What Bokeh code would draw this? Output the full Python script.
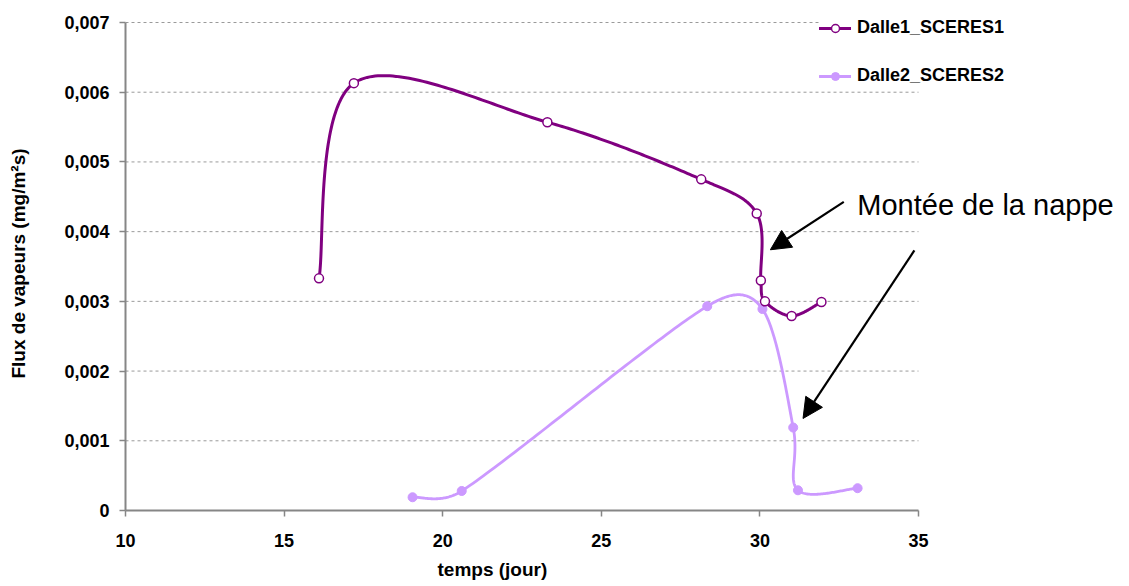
import numpy as np
from bokeh.plotting import figure
from bokeh.models import (FixedTicker, Range1d, Legend, LegendItem, Label, Arrow,
                          NormalHead, Title)
from bokeh.embed import file_html
from bokeh.resources import INLINE

# ---------------- data ----------------
s1_name = "Dalle1_SCERES1"
s1_x = [16.1, 17.2, 23.3, 28.15, 29.9, 30.03, 30.16, 31.0, 31.94]
s1_y = [0.00333, 0.00613, 0.00557, 0.00475, 0.00426, 0.00330, 0.00300, 0.00279, 0.00299]

s2_name = "Dalle2_SCERES2"
s2_x = [19.05, 20.6, 28.34, 30.08, 31.05, 31.2, 33.08]
s2_y = [0.00019, 0.00028, 0.00293, 0.00289, 0.00119, 0.00029, 0.00032]

x_ticks = [10, 15, 20, 25, 30, 35]
y_ticks = [0, 0.001, 0.002, 0.003, 0.004, 0.005, 0.006, 0.007]
y_tick_labels = ["0", "0,001", "0,002", "0,003", "0,004", "0,005", "0,006", "0,007"]

x_title = "temps (jour)"
y_title = "Flux de vapeurs (mg/m²s)"
note_text = "Montée de la nappe"
note_pos = [33.07, 0.00438]
arrow1 = [32.645, 0.004426, 30.33, 0.00374]   # tail x, tail y, tip x, tip y
arrow2 = [34.87, 0.00373, 31.36, 0.00132]

# ---------------- layout ----------------
X0, X1 = 10, 35
Y0, Y1 = 0, 0.007
W, H = 1129, 586
LEFT = 125          # frame left edge (px)
FRAME_TOP = 16      # frame top edge (px)
AX_TOP = 22         # pixel row of y = 0.007
AX_BOTTOM = 510     # pixel row of y = 0
AX_RIGHT = 918      # pixel column of x = 35
PX_X = (AX_RIGHT - LEFT) / (X1 - X0)
PX_Y = (AX_BOTTOM - AX_TOP) / (Y1 - Y0)
X_FULL = X0 + (W - LEFT) / PX_X                  # frame extends to the right edge
Y_FULL = Y1 + (AX_TOP - FRAME_TOP) / PX_Y        # a little room above 0.007
X_TITLE_LEFT = 437      # pixel where the x title starts in the reference

C1 = "#800080"
C2 = "#CC99FF"
FONT = "Liberation Sans"


def excel_smooth(xs, ys, n=60):
    """Excel-like smoothed line (Bezier through points, computed in pixel space)."""
    P = np.column_stack([np.asarray(xs, float) * PX_X, np.asarray(ys, float) * PX_Y])
    m = len(P)
    outx, outy = [], []
    t = np.linspace(0, 1, n)[:, None]
    for i in range(m - 1):
        p0 = P[i - 1] if i > 0 else P[i]
        p1 = P[i]
        p2 = P[i + 1]
        p3 = P[i + 2] if i + 2 < m else P[i + 1]
        d02 = np.linalg.norm(p2 - p0)
        d12 = np.linalg.norm(p2 - p1)
        d13 = np.linalg.norm(p3 - p1)
        f1 = 1 / 6 if d02 / 6 < d12 / 2 else (d12 / (2 * d02) if d02 > 0 else 0)
        f2 = 1 / 6 if d13 / 6 < d12 / 2 else (d12 / (2 * d13) if d13 > 0 else 0)
        c1 = p1 + f1 * (p2 - p0)
        c2 = p2 - f2 * (p3 - p1)
        B = ((1 - t) ** 3) * p1 + 3 * ((1 - t) ** 2) * t * c1 + 3 * (1 - t) * t ** 2 * c2 + t ** 3 * p2
        if i > 0:
            B = B[1:]
        outx.extend(B[:, 0] / PX_X)
        outy.extend(B[:, 1] / PX_Y)
    return outx, outy


p = figure(width=W, height=H, output_backend="svg", toolbar_location=None,
           x_range=Range1d(X0, X_FULL), y_range=Range1d(Y0, Y_FULL),
           min_border_left=LEFT, min_border_top=FRAME_TOP,
           min_border_right=0, min_border_bottom=H - AX_BOTTOM)
p.outline_line_color = None
p.background_fill_color = "white"
p.border_fill_color = "white"
p.xgrid.visible = False
p.ygrid.visible = False

# dashed horizontal gridlines, limited to the axis extent
p.segment(x0=X0, x1=X1, y0=y_ticks[1:], y1=y_ticks[1:], line_color="#9a9a9a",
          line_dash="3 3", line_width=1)

# axes
for ax in (p.xaxis[0], p.yaxis[0]):
    ax.axis_line_color = "#868686"
    ax.axis_line_width = 2
    ax.major_tick_line_color = "#868686"
    ax.major_tick_line_width = 1.5
    ax.major_tick_out = 6
    ax.major_tick_in = 0
    ax.minor_tick_line_color = None
    ax.major_label_text_font = FONT
    ax.major_label_text_font_style = "bold"
    ax.major_label_text_font_size = "18px"
    ax.major_label_text_color = "black"
    ax.axis_label_text_font = FONT
    ax.axis_label_text_font_style = "bold"
    ax.axis_label_text_font_size = "19px"
    ax.axis_label_text_color = "black"

p.xaxis.ticker = FixedTicker(ticks=x_ticks)
p.xaxis.bounds = (X0, X1)
p.xaxis.major_label_standoff = 17
p.yaxis.ticker = FixedTicker(ticks=y_ticks)
p.yaxis.bounds = (Y0, Y1)
p.yaxis.major_label_overrides = {t: l for t, l in zip(y_ticks, y_tick_labels)}
p.yaxis.major_label_standoff = 10
p.yaxis.axis_label = y_title
p.yaxis.axis_label_standoff = 32

# x title as a side title, shifted to the reference position
p.add_layout(Title(text=x_title, align="left", offset=X_TITLE_LEFT - LEFT,
                   text_font=FONT, text_font_style="bold", text_font_size="19px",
                   text_color="black", standoff=14), "below")

# series
sx1, sy1 = excel_smooth(s1_x, s1_y)
sx2, sy2 = excel_smooth(s2_x, s2_y)

l2 = p.line(sx2, sy2, line_color=C2, line_width=2.8, line_join="round", line_cap="round")
m2 = p.scatter(s2_x, s2_y, marker="circle", size=9, fill_color=C2, line_color=C2)
l1 = p.line(sx1, sy1, line_color=C1, line_width=3, line_join="round", line_cap="round")
m1 = p.scatter(s1_x, s1_y, marker="circle", size=9, fill_color="white", line_color=C1, line_width=1.5)

legend = Legend(items=[LegendItem(label=s1_name, renderers=[l1, m1]),
                       LegendItem(label=s2_name, renderers=[l2, m2])],
                location=(694, AX_BOTTOM - 86))
legend.background_fill_color = "white"
legend.background_fill_alpha = 1
legend.border_line_color = None
legend.padding = 10
legend.margin = 0
legend.spacing = 27
legend.glyph_width = 32
legend.glyph_height = 20
legend.label_height = 20
legend.label_standoff = 6
legend.label_text_font = FONT
legend.label_text_font_style = "bold"
legend.label_text_font_size = "18px"
legend.label_text_color = "black"
p.add_layout(legend, "center")

# annotations
p.add_layout(Label(x=note_pos[0], y=note_pos[1], text=note_text, text_font=FONT,
                   text_font_size="29px", text_color="black", text_baseline="alphabetic"))
for a in (arrow1, arrow2):
    p.add_layout(Arrow(x_start=a[0], y_start=a[1], x_end=a[2], y_end=a[3],
                       line_color="black", line_width=2.2,
                       end=NormalHead(size=20, fill_color="black", line_color="black")))

open("out.html", "w").write(file_html(p, INLINE))
